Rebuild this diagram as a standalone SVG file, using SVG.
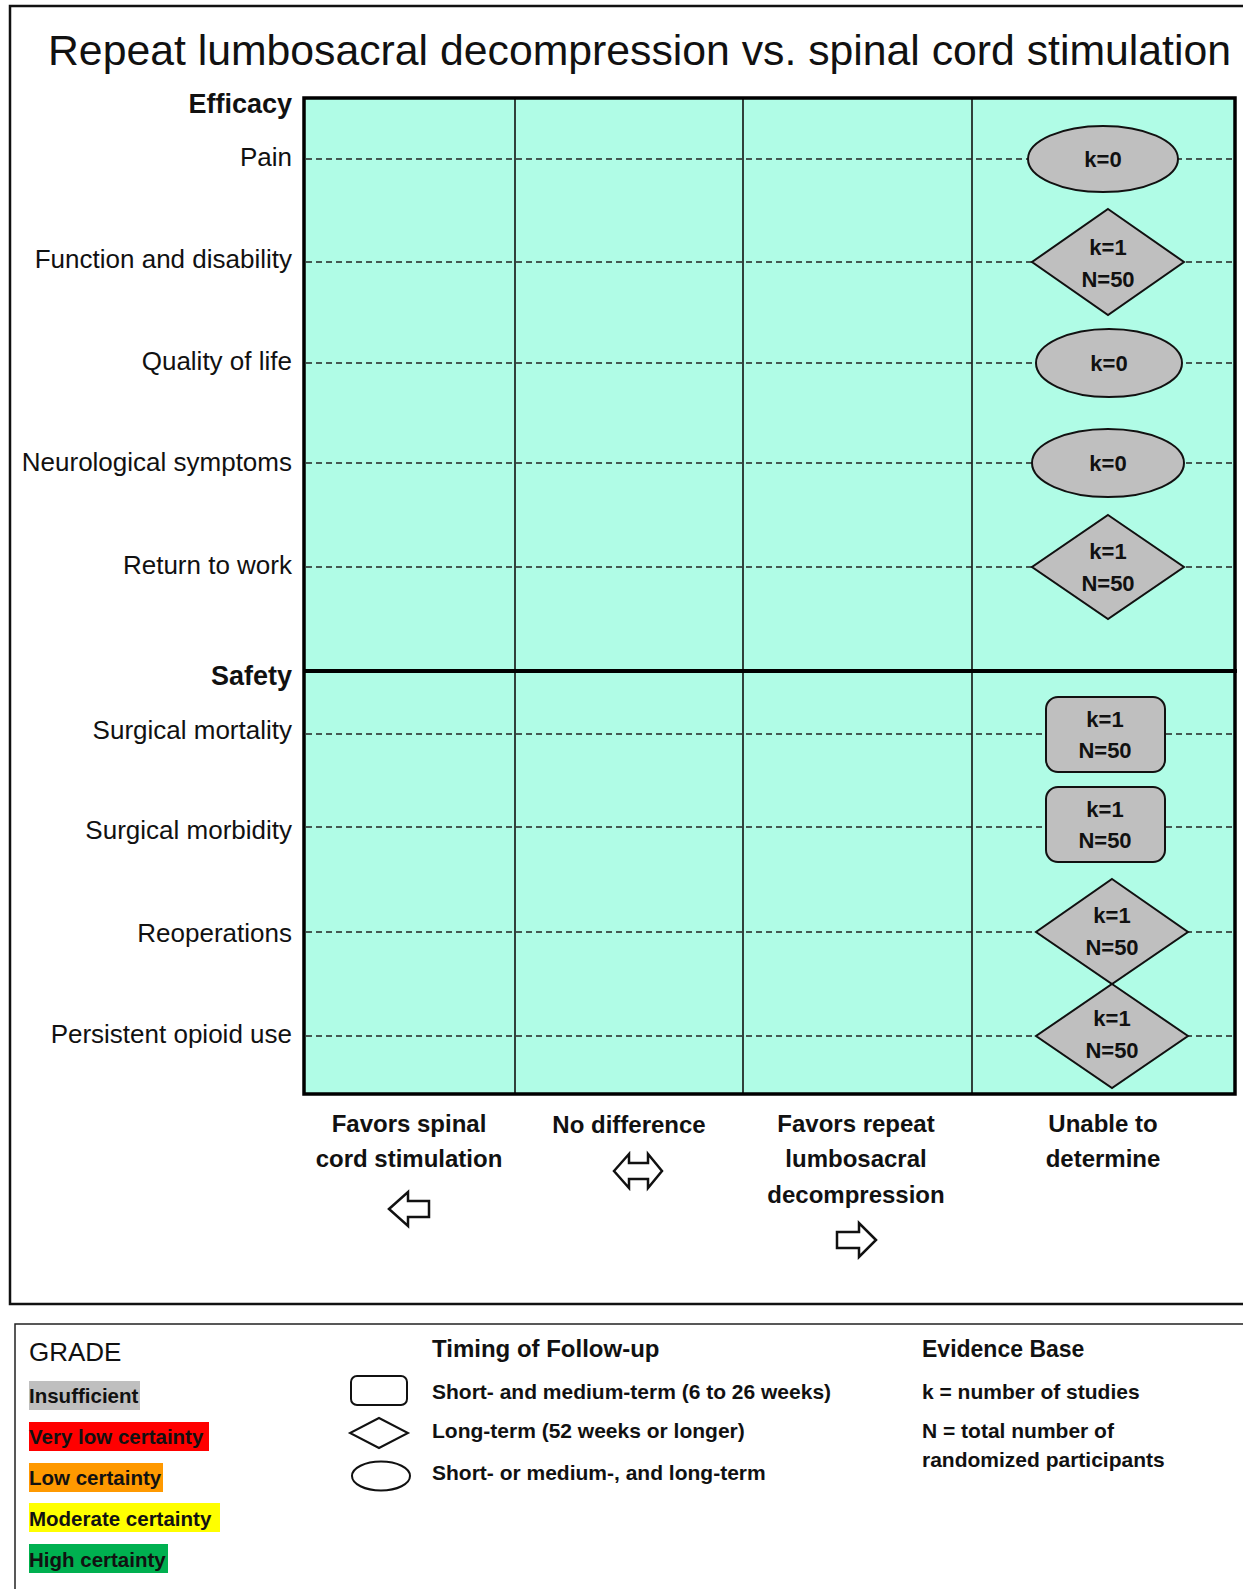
<svg xmlns="http://www.w3.org/2000/svg" width="1243" height="1589" viewBox="0 0 1243 1589">
<style>
text{font-family:"Liberation Sans",Arial,sans-serif;fill:#111}
.title{font-size:43px}
.lbl{font-size:26px;text-anchor:end}
.sec{font-size:27px;font-weight:bold;text-anchor:end}
.nt{font-size:22px;font-weight:bold;text-anchor:middle}
.node{fill:#BFBFBF;stroke:#111;stroke-width:2}
.dash{stroke:#222;stroke-width:1.6;stroke-dasharray:6 4;fill:none}
.col{font-size:24px;font-weight:bold;text-anchor:middle}
.arr{fill:#fff;stroke:#111;stroke-width:2.5;stroke-linejoin:miter}
.lg{font-size:21px;font-weight:bold}
.lh{font-size:24px;font-weight:bold}
.icon{fill:#fff;stroke:#111;stroke-width:2}
</style>
<rect width="1243" height="1589" fill="#fff"/>
<!-- outer frame -->
<rect x="10" y="6" width="1260" height="1298" fill="none" stroke="#111" stroke-width="2.5"/>
<text class="title" x="48" y="65" textLength="1183" lengthAdjust="spacingAndGlyphs">Repeat lumbosacral decompression vs. spinal cord stimulation</text>

<!-- grid -->
<g id="grid">
<rect x="304" y="98" width="931" height="996" fill="#B0FCE6" stroke="none"/>
<line x1="515" y1="98" x2="515" y2="1094" stroke="#111" stroke-width="1.6"/>
<line x1="743" y1="98" x2="743" y2="1094" stroke="#111" stroke-width="1.6"/>
<line x1="972" y1="98" x2="972" y2="1094" stroke="#111" stroke-width="1.6"/>
<line x1="304" y1="671" x2="1237" y2="671" stroke="#000" stroke-width="4"/>
<rect x="304" y="98" width="931" height="996" fill="none" stroke="#000" stroke-width="3.5"/>
</g>

<!-- row labels -->
<g id="labels">
<text class="sec" x="292" y="113">Efficacy</text>
<text class="lbl" x="292" y="166">Pain</text>
<text class="lbl" x="292" y="268">Function and disability</text>
<text class="lbl" x="292" y="370">Quality of life</text>
<text class="lbl" x="292" y="471">Neurological symptoms</text>
<text class="lbl" x="292" y="574">Return to work</text>
<text class="sec" x="292" y="685">Safety</text>
<text class="lbl" x="292" y="739">Surgical mortality</text>
<text class="lbl" x="292" y="839">Surgical morbidity</text>
<text class="lbl" x="292" y="942">Reoperations</text>
<text class="lbl" x="292" y="1043">Persistent opioid use</text>
</g>

<!-- connectors (dashed row lines) -->
<g id="connectors">
<line class="dash" x1="306" y1="159" x2="1233" y2="159"/>
<line class="dash" x1="306" y1="262" x2="1233" y2="262"/>
<line class="dash" x1="306" y1="363" x2="1233" y2="363"/>
<line class="dash" x1="306" y1="463" x2="1233" y2="463"/>
<line class="dash" x1="306" y1="567" x2="1233" y2="567"/>
<line class="dash" x1="306" y1="734" x2="1233" y2="734"/>
<line class="dash" x1="306" y1="827" x2="1233" y2="827"/>
<line class="dash" x1="306" y1="932" x2="1233" y2="932"/>
<line class="dash" x1="306" y1="1036" x2="1233" y2="1036"/>
</g>

<!-- nodes -->
<g id="node-pain">
<ellipse class="node" cx="1103" cy="159" rx="75" ry="33"/>
<text class="nt" x="1103" y="167">k=0</text>
</g>
<g id="node-function">
<polygon class="node" points="1108,209 1184,262 1108,315 1032,262"/>
<text class="nt" x="1108" y="255">k=1</text>
<text class="nt" x="1108" y="287">N=50</text>
</g>
<g id="node-qol">
<ellipse class="node" cx="1109" cy="363" rx="73" ry="34"/>
<text class="nt" x="1109" y="371">k=0</text>
</g>
<g id="node-neuro">
<ellipse class="node" cx="1108" cy="463" rx="76" ry="34"/>
<text class="nt" x="1108" y="471">k=0</text>
</g>
<g id="node-return">
<polygon class="node" points="1108,515 1184,567 1108,619 1032,567"/>
<text class="nt" x="1108" y="559">k=1</text>
<text class="nt" x="1108" y="591">N=50</text>
</g>
<g id="node-mortality">
<rect class="node" x="1046" y="697" width="119" height="75" rx="12"/>
<text class="nt" x="1105" y="727">k=1</text>
<text class="nt" x="1105" y="758">N=50</text>
</g>
<g id="node-morbidity">
<rect class="node" x="1046" y="787" width="119" height="75" rx="12"/>
<text class="nt" x="1105" y="817">k=1</text>
<text class="nt" x="1105" y="848">N=50</text>
</g>
<g id="node-reop">
<polygon class="node" points="1112,879 1188,932 1112,984 1036,932"/>
<text class="nt" x="1112" y="923">k=1</text>
<text class="nt" x="1112" y="955">N=50</text>
</g>
<g id="node-opioid">
<polygon class="node" points="1112,984 1188,1036 1112,1088 1036,1036"/>
<text class="nt" x="1112" y="1026">k=1</text>
<text class="nt" x="1112" y="1058">N=50</text>
</g>

<!-- column captions -->
<g id="col-favors-scs">
<text class="col" x="409" y="1132">Favors spinal</text>
<text class="col" x="409" y="1167">cord stimulation</text>
<path class="arr" d="M389,1209 L408,1192 L408,1201 L429,1201 L429,1217 L408,1217 L408,1226 Z"/>
</g>
<g id="col-nodiff">
<text class="col" x="629" y="1133">No difference</text>
<path class="arr" d="M614,1171 L629,1154 L629,1163 L648,1163 L648,1154 L662,1171 L648,1188 L648,1179 L629,1179 L629,1188 Z"/>
</g>
<g id="col-favors-rld">
<text class="col" x="856" y="1132">Favors repeat</text>
<text class="col" x="856" y="1167">lumbosacral</text>
<text class="col" x="856" y="1203">decompression</text>
<path class="arr" d="M876,1240 L859,1223 L859,1232 L837,1232 L837,1248 L859,1248 L859,1257 Z"/>
</g>
<g id="col-unable">
<text class="col" x="1103" y="1132">Unable to</text>
<text class="col" x="1103" y="1167">determine</text>
</g>

<!-- legend -->
<g id="legend">
<rect x="15" y="1324" width="1260" height="300" fill="none" stroke="#222" stroke-width="1.5"/>
<text x="29" y="1361" style="font-size:26px">GRADE</text>
<rect x="29" y="1381" width="111" height="29" fill="#BFBFBF"/>
<text class="lg" x="29" y="1403" style="font-size:20.5px">Insufficient</text>
<rect x="29" y="1422" width="180" height="29" fill="#FF0000"/>
<text class="lg" x="29" y="1444" style="font-size:20.5px">Very low certainty</text>
<rect x="29" y="1463" width="134" height="29" fill="#FF9900"/>
<text class="lg" x="29" y="1485" style="font-size:20.5px">Low certainty</text>
<rect x="29" y="1503" width="191" height="29" fill="#FFFF00"/>
<text class="lg" x="29" y="1526" style="font-size:20.5px">Moderate certainty</text>
<rect x="29" y="1544" width="139" height="29" fill="#00B050"/>
<text class="lg" x="29" y="1567" style="font-size:20.5px">High certainty</text>

<text class="lh" x="432" y="1357">Timing of Follow-up</text>
<rect class="icon" x="351" y="1376" width="56" height="29" rx="6"/>
<text class="lg" x="432" y="1399">Short- and medium-term (6 to 26 weeks)</text>
<polygon class="icon" points="379,1418 408,1433 379,1448 350,1433"/>
<text class="lg" x="432" y="1438">Long-term (52 weeks or longer)</text>
<ellipse class="icon" cx="381" cy="1476" rx="29" ry="14.5"/>
<text class="lg" x="432" y="1480">Short- or medium-, and long-term</text>

<text class="lh" x="922" y="1357" style="font-size:23px">Evidence Base</text>
<text class="lg" x="922" y="1399">k = number of studies</text>
<text class="lg" x="922" y="1438">N = total number of</text>
<text class="lg" x="922" y="1467">randomized participants</text>
</g>
</svg>
